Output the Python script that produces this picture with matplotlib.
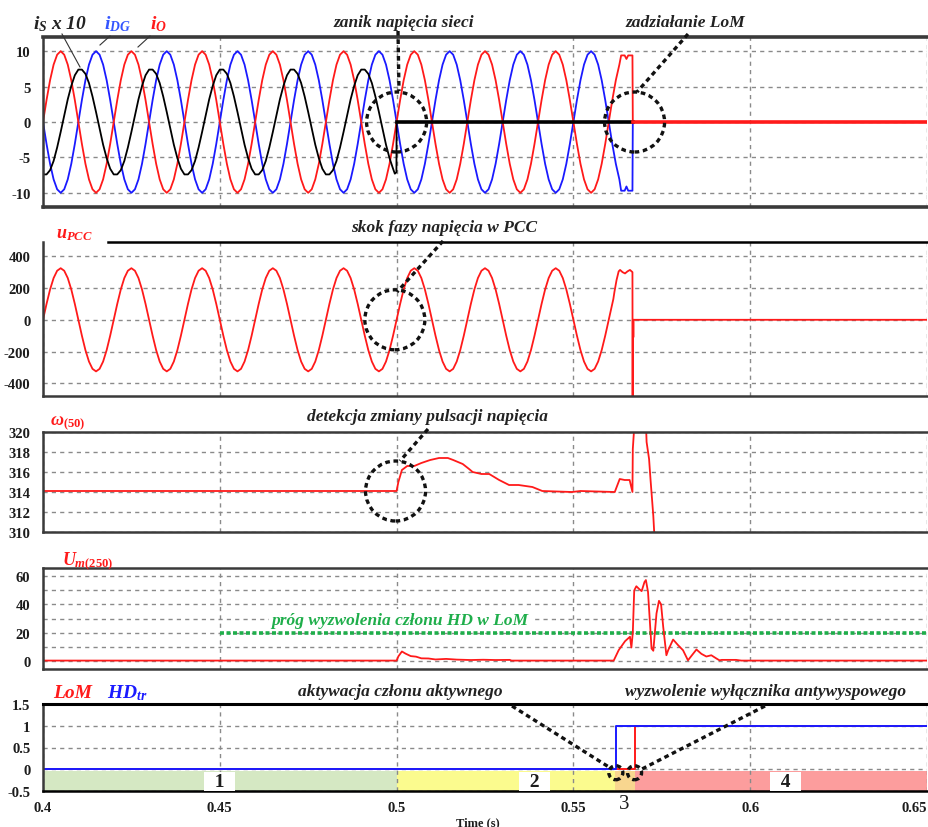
import numpy as np
import matplotlib
matplotlib.use('Agg')
from matplotlib import pyplot as plt
from matplotlib.lines import Line2D
from matplotlib.patches import Ellipse
from matplotlib.transforms import ScaledTranslation

W, H, DPI = 929, 828, 100
SERIF = 'Liberation Serif'

plt.rcParams['font.family'] = [SERIF, 'DejaVu Serif']
plt.rcParams['axes.unicode_minus'] = False
plt.rcParams['mathtext.fontset'] = 'custom'
plt.rcParams['mathtext.it'] = 'Liberation Serif:italic:bold'
plt.rcParams['mathtext.rm'] = 'Liberation Serif:bold'
plt.rcParams['mathtext.bf'] = 'Liberation Serif:bold'

# ---- data ----
t_start = 0.4        # s, first sample
t_step = 0.001       # s, spacing of the waveform readings

# i_O (red), one row per 20 ms cycle
i_o_wave = [
    0, 3.1, 5.9, 8.1, 9.5, 10, 9.5, 8.1, 5.9, 3.1, 0, -3.1, -5.9, -8.1, -9.5, -10, -9.5, -8.1, -5.9, -3.1,
    0, 3.1, 5.9, 8.1, 9.5, 10, 9.5, 8.1, 5.9, 3.1, 0, -3.1, -5.9, -8.1, -9.5, -10, -9.5, -8.1, -5.9, -3.1,
    0, 3.1, 5.9, 8.1, 9.5, 10, 9.5, 8.1, 5.9, 3.1, 0, -3.1, -5.9, -8.1, -9.5, -10, -9.5, -8.1, -5.9, -3.1,
    0, 3.1, 5.9, 8.1, 9.5, 10, 9.5, 8.1, 5.9, 3.1, 0, -3.1, -5.9, -8.1, -9.5, -10, -9.5, -8.1, -5.9, -3.1,
    0, 3.1, 5.9, 8.1, 9.5, 10, 9.5, 8.1, 5.9, 3.1, 0, -3.1, -5.9, -8.1, -9.5, -10, -9.5, -8.1, -5.9, -3.1,
    0, 3.1, 5.9, 8.1, 9.5, 10, 9.5, 8.1, 5.9, 3.1, 0, -3.1, -5.9, -8.1, -9.5, -10, -9.5, -8.1, -5.9, -3.1,
    0, 3.1, 5.9, 8.1, 9.5, 10, 9.5, 8.1, 5.9, 3.1, 0, -3.1, -5.9, -8.1, -9.5, -10, -9.5, -8.1, -5.9, -3.1,
    0, 3.1, 5.9, 8.1, 9.5, 10, 9.5, 8.1, 5.9, 3.1, 0, -3.1, -5.9, -8.1, -9.5, -10, -9.5, -8.1, -5.9, -3.1,
    0, 3.1, 5.9, 8.1,
]
i_o_tail_t = [0.5635, 0.5645, 0.5650, 0.5655, 0.5667, 0.5668, 0.65]
i_o_tail = [9.4, 9.4, 8.9, 9.4, 9.4, 0, 0]

# i_DG (blue)
i_dg_wave = [
    0, -3.1, -5.9, -8.1, -9.5, -10, -9.5, -8.1, -5.9, -3.1, 0, 3.1, 5.9, 8.1, 9.5, 10, 9.5, 8.1, 5.9, 3.1,
    0, -3.1, -5.9, -8.1, -9.5, -10, -9.5, -8.1, -5.9, -3.1, 0, 3.1, 5.9, 8.1, 9.5, 10, 9.5, 8.1, 5.9, 3.1,
    0, -3.1, -5.9, -8.1, -9.5, -10, -9.5, -8.1, -5.9, -3.1, 0, 3.1, 5.9, 8.1, 9.5, 10, 9.5, 8.1, 5.9, 3.1,
    0, -3.1, -5.9, -8.1, -9.5, -10, -9.5, -8.1, -5.9, -3.1, 0, 3.1, 5.9, 8.1, 9.5, 10, 9.5, 8.1, 5.9, 3.1,
    0, -3.1, -5.9, -8.1, -9.5, -10, -9.5, -8.1, -5.9, -3.1, 0, 3.1, 5.9, 8.1, 9.5, 10, 9.5, 8.1, 5.9, 3.1,
    0, -3.1, -5.9, -8.1, -9.5, -10, -9.5, -8.1, -5.9, -3.1, 0, 3.1, 5.9, 8.1, 9.5, 10, 9.5, 8.1, 5.9, 3.1,
    0, -3.1, -5.9, -8.1, -9.5, -10, -9.5, -8.1, -5.9, -3.1, 0, 3.1, 5.9, 8.1, 9.5, 10, 9.5, 8.1, 5.9, 3.1,
    0, -3.1, -5.9, -8.1, -9.5, -10, -9.5, -8.1, -5.9, -3.1, 0, 3.1, 5.9, 8.1, 9.5, 10, 9.5, 8.1, 5.9, 3.1,
    0, -3.1, -5.9, -8.1,
]
i_dg_tail_t = [0.5635, 0.5645, 0.5650, 0.5655, 0.5667, 0.5668, 0.65]
i_dg_tail = [-9.7, -9.7, -9.1, -9.7, -9.7, 0, 0]

# i_S x 10 (black), until loss of grid at 0.5 s
i_s_wave = [
    -7.4, -7.4, -6.8, -5.5, -3.6, -1.4, 0.9, 3.2, 5.1, 6.6, 7.4, 7.4, 6.8, 5.5, 3.6, 1.4, -0.9, -3.2, -5.1, -6.6,
    -7.4, -7.4, -6.8, -5.5, -3.6, -1.4, 0.9, 3.2, 5.1, 6.6, 7.4, 7.4, 6.8, 5.5, 3.6, 1.4, -0.9, -3.2, -5.1, -6.6,
    -7.4, -7.4, -6.8, -5.5, -3.6, -1.4, 0.9, 3.2, 5.1, 6.6, 7.4, 7.4, 6.8, 5.5, 3.6, 1.4, -0.9, -3.2, -5.1, -6.6,
    -7.4, -7.4, -6.8, -5.5, -3.6, -1.4, 0.9, 3.2, 5.1, 6.6, 7.4, 7.4, 6.8, 5.5, 3.6, 1.4, -0.9, -3.2, -5.1, -6.6,
    -7.4, -7.4, -6.8, -5.5, -3.6, -1.4, 0.9, 3.2, 5.1, 6.6, 7.4, 7.4, 6.8, 5.5, 3.6, 1.4, -0.9, -3.2, -5.1, -6.6,
]
i_s_tail_t = [0.4995, 0.49995, 0.5, 0.5668]
i_s_tail = [-7.3, -7.1, 0, 0]

# u_PCC (red)
u_wave = [
    0, 100, 191, 263, 309, 325, 309, 263, 191, 100, 0, -100, -191, -263, -309, -325, -309, -263, -191, -100,
    0, 100, 191, 263, 309, 325, 309, 263, 191, 100, 0, -100, -191, -263, -309, -325, -309, -263, -191, -100,
    0, 100, 191, 263, 309, 325, 309, 263, 191, 100, 0, -100, -191, -263, -309, -325, -309, -263, -191, -100,
    0, 100, 191, 263, 309, 325, 309, 263, 191, 100, 0, -100, -191, -263, -309, -325, -309, -263, -191, -100,
    0, 100, 191, 263, 309, 325, 309, 263, 191, 100, 0, -100, -191, -263, -309, -325, -309, -263, -191, -100,
    0, 100, 191, 263, 309, 325, 309, 263, 191, 100, 0, -100, -191, -263, -309, -325, -309, -263, -191, -100,
    0, 100, 191, 263, 309, 325, 309, 263, 191, 100, 0, -100, -191, -263, -309, -325, -309, -263, -191, -100,
    0, 100, 191, 263, 309, 325, 309, 263, 191, 100, 0, -100, -191, -263, -309, -325, -309, -263, -191, -100,
    0, 100,
]
u_tail_t = [0.5613, 0.5616, 0.5622, 0.5628, 0.5632, 0.5639, 0.5646, 0.5653, 0.5660, 0.5667,
            0.56675, 0.5668, 0.5669, 0.56695, 0.5670, 0.65]
u_tail = [131, 175, 250, 305, 314, 300, 292, 305, 314, 300, -520, 0, 0, -110, 0, 0]

# omega_(50)
w_t = [0.4, 0.5, 0.5005, 0.5015, 0.503, 0.505, 0.507, 0.5095, 0.512, 0.5145, 0.516, 0.5187,
       0.5205, 0.5215, 0.524, 0.5262, 0.529, 0.5318, 0.5345, 0.5384, 0.5412, 0.5496, 0.552,
       0.5617, 0.5631, 0.5645, 0.5659, 0.5667, 0.5668, 0.5673, 0.5705, 0.5707, 0.5714, 0.5718,
       0.5726, 0.573, 0.574]
w_val = [314.1, 314.1, 315.0, 316.2, 316.6, 316.6, 316.9, 317.2, 317.4, 317.4, 317.2, 316.8,
         316.3, 316.0, 315.8, 315.8, 315.2, 314.7, 314.7, 314.5, 314.1, 314.0, 314.1,
         314.0, 315.3, 315.2, 315.2, 314.0, 318.3, 321.0, 321.0, 319.0, 317.3, 315.3,
         311.6, 309.0, 300.0]

# U_m(250)
um_t = [0.4, 0.5, 0.5005, 0.5015, 0.5025, 0.504, 0.5055, 0.507, 0.509, 0.511, 0.514, 0.517,
        0.521, 0.5245, 0.528, 0.532, 0.5325, 0.5614, 0.5628, 0.5646, 0.566, 0.5664, 0.5668,
        0.5672, 0.5678, 0.5686, 0.5693, 0.5701, 0.5705, 0.5711, 0.5721, 0.5726, 0.5735,
        0.5742, 0.5748, 0.5754, 0.5763, 0.5768, 0.5782, 0.5796, 0.581, 0.5824, 0.5848,
        0.5862, 0.5876, 0.589, 0.5905, 0.5913, 0.592, 0.596, 0.5975, 0.65]
um_val = [0, 0, 3, 6.5, 5, 3.2, 2.8, 1.6, 1.5, 0.8, 1.2, 0.7,
          0.4, 0.6, 0.4, 0.5, 0, 0, 7.4, 13.8, 17, 9.3, 20,
          50, 53, 51, 49.5, 56, 57.4, 49, 8.6, 7, 33.6,
          42.6, 40, 24, 3.8, 7.4, 15, 11, 7.4, 0.2, 7.9,
          4.8, 2.9, 3.8, 1.4, 0.2, 0.5, 0.5, 0, 0]
threshold_t = [0.45, 0.65]
threshold = 20

# LoM / HD_tr logic signals
lom_t = [0.4, 0.5673, 0.5673, 0.65]
lom = [0, 0, 1, 1]
hd_t = [0.4, 0.5620, 0.5620, 0.65]
hd = [0, 0, 1, 1]

# operating stages 1-4
stage_edges = [0.4, 0.5, 0.5617, 0.5673, 0.65]
stage_names = ['1', '2', '3', '4']
stage_label_t = [0.45, 0.539, 0.5643, 0.610]
stage_colors = ['#d5e8c3', '#fbfb8e', '#f8d68f', '#fc9d9d']

x_ticks = [0.4, 0.45, 0.5, 0.55, 0.6, 0.65]
x_labels = ['0.4', '0.45', '0.5', '0.55', '0.6', '0.65']

RED, BLUE, GREEN, INK = '#ff1a1a', '#1a1aff', '#1fae4b', '#1c1c1c'


def series(wave, tail_t, tail):
    t = t_start + t_step * np.arange(len(wave))
    return np.concatenate([t, tail_t]), np.concatenate([wave, tail])


def fx(x):
    return x / W


def fy(y):
    return 1 - y / H


fig = plt.figure(figsize=(W / DPI, H / DPI), dpi=DPI)

# panel boxes in pixels: (top, bottom)
rows = [(38, 208), (243, 397), (433, 533), (569, 670), (705, 792)]
left, right = 43, 927
axes = []
for top, bot in rows:
    ax = fig.add_axes([fx(left), fy(bot), fx(right - left), (bot - top) / H])
    ax.set_xlim(0.4, 0.65)
    ax.set_xticks(x_ticks)
    ax.set_axisbelow(True)
    ax.grid(True, which='both', color='#8a8a8a', lw=1.0, ls=(0, (3, 3)))
    ax.tick_params(length=0, labelsize=10.5, labelcolor=INK, pad=9)
    ax.tick_params(axis='x', labelbottom=False)
    ax.spines['right'].set_visible(False)
    for s in ('left', 'top', 'bottom'):
        ax.spines[s].set_color('#3a3a3a')
        ax.spines[s].set_linewidth(1.8)
    axes.append(ax)

ax1, ax2, ax3, ax4, ax5 = axes

# --- panel 1: currents ---
t_io, io = series(i_o_wave, i_o_tail_t, i_o_tail)
t_idg, idg = series(i_dg_wave, i_dg_tail_t, i_dg_tail)
t_is, i_s = series(i_s_wave, i_s_tail_t, i_s_tail)
ax1.plot(t_idg, idg, color=BLUE, lw=1.3)
ax1.plot(t_io, io, color=RED, lw=1.3)
ax1.plot(t_is, i_s, color='black', lw=1.3)
ax1.plot(t_is[-2:], i_s[-2:], color='black', lw=2.6)
ax1.plot(t_io[-2:], io[-2:], color=RED, lw=2.6)
ax1.set_ylim(-12, 12)
ax1.set_yticks([-10, -5, 0, 5, 10])
ax1.spines['top'].set_linewidth(2.6)
ax1.spines['bottom'].set_linewidth(2.6)

# --- panel 2: u_PCC ---
t_u, u = series(u_wave, u_tail_t, u_tail)
ax2.plot(t_u, u, color=RED, lw=1.3)
ax2.set_ylim(-480, 490)
ax2.set_yticks([-400, -200, 0, 200, 400])
ax2.spines['top'].set_bounds(0.4183, 0.65)
ax2.spines['top'].set_color('black')

# --- panel 3: omega ---
ax3.plot(w_t, w_val, color=RED, lw=1.3)
ax3.set_ylim(310, 320)
ax3.set_yticks([310, 312, 314, 316, 318, 320])

# --- panel 4: U_m(250) ---
ax4.plot(threshold_t, [threshold] * len(threshold_t), color=GREEN, lw=2.6, ls=(0, (1.1, 0.7)))
ax4.plot(um_t, um_val, color=RED, lw=1.3)
ax4.set_ylim(-6, 66)
ax4.set_yticks([0, 20, 40, 60])
ax4.set_yticks([10, 30, 50], minor=True)
ax4.tick_params(which='minor', length=0)

# --- panel 5: logic signals and stages ---
for i, name in enumerate(stage_names):
    ax5.fill_between([stage_edges[i], stage_edges[i + 1]], -0.5, -0.05,
                     color=stage_colors[i], lw=0, zorder=0.2)
ax5.plot(lom_t, lom, color=RED, lw=1.4)
ax5.plot(hd_t, hd, color=BLUE, lw=1.4)
for name, tl in zip(stage_names, stage_label_t):
    if name == '3':
        ax5.text(tl, -0.78, name, ha='center', va='center', fontsize=15, color=INK, clip_on=False)
    else:
        ax5.text(tl, -0.29, '  ' + name + '  ', ha='center', va='center', fontsize=14,
                 fontweight='bold', color=INK,
                 bbox=dict(boxstyle='square,pad=0.05', fc='white', ec='none'))
ax5.set_ylim(-0.5, 1.5)
ax5.set_yticks([-0.5, 0, 0.5, 1, 1.5])
ax5.set_yticklabels(['-0.5', '0', '0.5', '1', '1.5'])
ax5.tick_params(axis='x', labelbottom=True, pad=7)
ax5.set_xticklabels(x_labels, fontweight='bold')
ax5.get_xticklabels()[-1].set_horizontalalignment('right')
ax5.spines['top'].set_color('black')
ax5.spines['top'].set_linewidth(2.2)
ax5.spines['bottom'].set_color('black')
for ax in axes:
    for lab in ax.get_yticklabels():
        lab.set_fontweight('bold')

fig.text(fx(478), fy(826), 'Time (s)', ha='center', va='baseline', fontsize=9,
         fontweight='bold', color=INK)

# --- signal names ---
name_kw = dict(ha='left', va='baseline', fontweight='bold', fontstyle='italic')
fig.text(fx(33), fy(29), r'$i_{S}$ x 10', color='#222222', fontsize=14, **name_kw)
fig.text(fx(104), fy(29), r'$i_{DG}$', color='#3355ff', fontsize=14, **name_kw)
fig.text(fx(150), fy(29), r'$i_{O}$', color=RED, fontsize=14, **name_kw)
fig.text(fx(56), fy(238), r'$u_{PCC}$', color=RED, fontsize=13, **name_kw)
fig.text(fx(50), fy(425), r'$\omega_{(50)}$', color=RED, fontsize=13, **name_kw)
fig.text(fx(62), fy(565), r'$U_{m(250)}$', color=RED, fontsize=13, **name_kw)
fig.text(fx(53), fy(698), 'LoM', color=RED, fontsize=14, **name_kw)
fig.text(fx(107), fy(698), r'$HD_{tr}$', color=BLUE, fontsize=14, **name_kw)
for (x0, y0), (x1, y1) in [((62, 35), (80, 68)), ((110, 37), (100, 46)), ((150, 37), (138, 48))]:
    fig.add_artist(Line2D([fx(x0), fx(x1)], [fy(y0), fy(y1)], color='#333333', lw=0.8))

# --- event annotations ---
note_kw = dict(ha='center', va='baseline', fontsize=12.5, fontweight='bold',
               fontstyle='italic', color='#222222')
fig.text(fx(404), fy(27), 'zanik napięcia sieci', **note_kw)
fig.text(fx(685), fy(27), 'zadziałanie LoM', **note_kw)
fig.text(fx(444), fy(232), 'skok fazy napięcia w PCC', **note_kw)
fig.text(fx(428), fy(421), 'detekcja zmiany pulsacji napięcia', **note_kw)
fig.text(fx(400), fy(696), 'aktywacja członu aktywnego', **note_kw)
fig.text(fx(766), fy(696), 'wyzwolenie wyłącznika antywyspowego', **note_kw)
fig.text(fx(400), fy(625), 'próg wyzwolenia członu HD w LoM',
         bbox=dict(boxstyle='square,pad=0.15', fc='white', ec='none'),
         **dict(note_kw, color=GREEN))

dash = (0, (1.4, 1.1))
for (x0, y0), (x1, y1) in [((398, 32), (399, 92)), ((688, 35), (637, 93)),
                           ((443, 242), (397, 293)), ((428, 430), (400, 462)),
                           ((512, 707), (612, 770)), ((765, 707), (642, 770))]:
    fig.add_artist(Line2D([fx(x0), fx(x1)], [fy(y0), fy(y1)], color='#111111', lw=2.4, ls=dash))


def ring(ax, x, y, r):
    tr = fig.dpi_scale_trans + ScaledTranslation(x, y, ax.transData)
    ax.add_artist(Ellipse((0, 0), 2 * r / DPI, 2 * r / DPI, transform=tr, fill=False,
                          ec='#111111', lw=2.4, ls=dash, clip_on=False, zorder=5))


ring(ax1, 0.5, 0, 30)
ring(ax1, 0.5673, 0, 30)
ring(ax2, 0.4995, 0, 30)
ring(ax3, 0.4997, 314.1, 30)
ring(ax5, 0.5620, -0.08, 7)
ring(ax5, 0.5673, -0.08, 7)

fig.savefig('out.png', dpi=DPI)
